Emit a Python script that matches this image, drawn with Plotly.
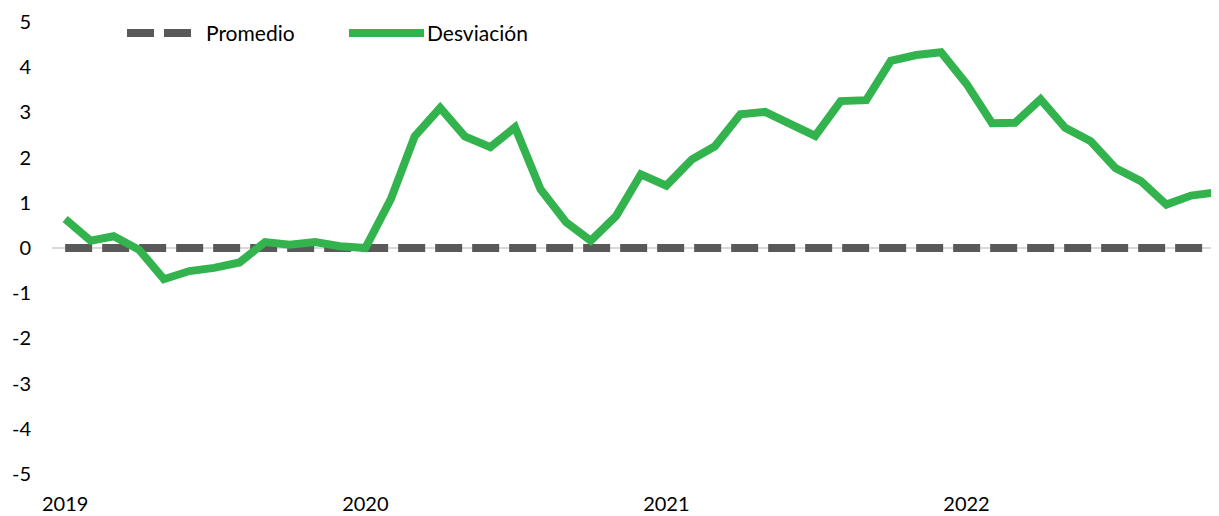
import pandas as pd
import plotly.graph_objects as go

# monthly, Jan 2019 - Nov 2022
months = pd.date_range("2019-01-01", "2022-11-01", freq="MS")

desviacion = [
    0.64, 0.16, 0.26, -0.04, -0.69, -0.51, -0.44, -0.32, 0.13, 0.07, 0.13, 0.04,
    0.00, 1.08, 2.47, 3.10, 2.47, 2.23, 2.67, 1.30, 0.57, 0.16, 0.71, 1.63,
    1.38, 1.96, 2.25, 2.96, 3.01, 2.74, 2.48, 3.25, 3.27, 4.14, 4.27, 4.33,
    3.63, 2.76, 2.77, 3.29, 2.66, 2.36, 1.77, 1.48, 0.96, 1.16, 1.23,
]
promedio = [0] * len(months)

year_ticks = ["2019-01-01", "2020-01-01", "2021-01-01", "2022-01-01"]
year_labels = ["2019", "2020", "2021", "2022"]
y_ticks = [-5, -4, -3, -2, -1, 0, 1, 2, 3, 4, 5]
y_labels = ["-5", "-4", "-3", "-2", "-1", "0", "1", "2", "3", "4", "5"]

GREEN = "#33b34d"
GREY = "#595959"
FONT = "Lato"

# page body has an 8px margin, so the figure is drawn 8px smaller
OFF = 8
W, H = 1219 - OFF, 516 - OFF
L, T, B = 52 - OFF, 22 - OFF, 516 - 474

fig = go.Figure()
fig.add_trace(go.Scatter(x=months, y=promedio, name="Promedio", mode="lines",
                         line=dict(color=GREY, width=8, dash="27px,10px")))
fig.add_trace(go.Scatter(x=months, y=desviacion, name="Desviación", mode="lines",
                         line=dict(color=GREEN, width=8)))


# legend drawn by hand so the samples are as long as in the original
def px_x(p):
    return (p - 52) / (1219 - 52)


def px_y(p):
    return (474 - p) / (474 - 22)


ly = px_y(33)
fig.add_shape(type="line", xref="paper", yref="paper", x0=px_x(127), x1=px_x(192), y0=ly, y1=ly,
              line=dict(color=GREY, width=8, dash="27px,10px"))
fig.add_shape(type="line", xref="paper", yref="paper", x0=px_x(349), x1=px_x(424), y0=ly, y1=ly,
              line=dict(color=GREEN, width=8))
fig.add_annotation(text="Promedio", xref="paper", yref="paper", x=px_x(204), y=ly,
                   xanchor="left", yanchor="middle", showarrow=False,
                   font=dict(family=FONT, size=21, color="black"))
fig.add_annotation(text="Desviación", xref="paper", yref="paper", x=px_x(425), y=ly,
                   xanchor="left", yanchor="middle", showarrow=False,
                   font=dict(family=FONT, size=21, color="black"))

fig.update_xaxes(range=["2018-12-16", "2022-11-04"], tickvals=year_ticks, ticktext=year_labels,
                 showgrid=False, zeroline=False, showline=False, ticks="",
                 ticklabelstandoff=16, automargin=False)
fig.update_yaxes(range=[-5, 5], tickvals=y_ticks, ticktext=y_labels, showgrid=False,
                 zeroline=True, zerolinecolor="#d9d9d9", zerolinewidth=2,
                 showline=False, ticks="", ticklabelstandoff=20, automargin=False)
fig.update_layout(width=W, height=H, showlegend=False,
                  margin=dict(l=L, r=0, t=T, b=B),
                  plot_bgcolor="white", paper_bgcolor="white",
                  font=dict(family=FONT, size=20, color="black"))

fig.write_html("out.html")
